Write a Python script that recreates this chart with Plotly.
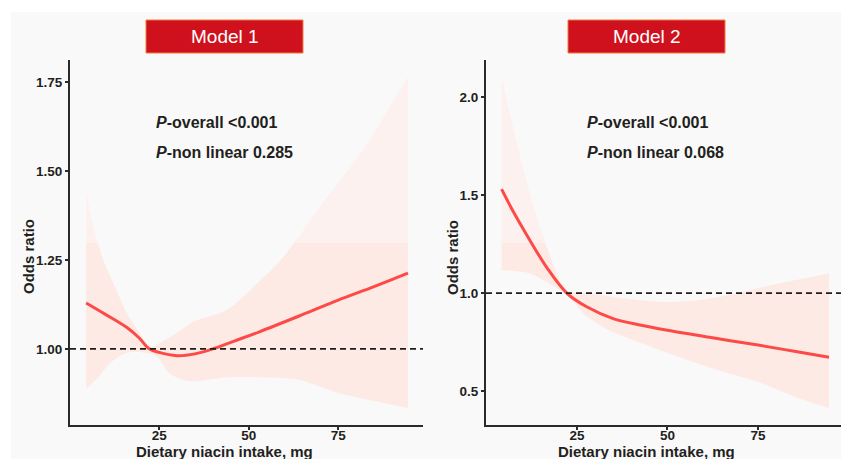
import plotly.graph_objects as go

W, H = 841, 459

# ---------------- data ----------------
# Model 1
m1_x = [4.6, 10, 16, 19.5, 22, 25, 30, 35, 40, 46, 53, 65, 75, 85, 94.5]
m1_or = [1.129, 1.097, 1.060, 1.030, 1.002, 0.990, 0.981, 0.986, 1.0, 1.022, 1.048, 1.096, 1.137, 1.175, 1.213]
m1_up_x = [4.6, 6.6, 9.4, 12.7, 16, 19, 22.5, 25.3, 30, 34.5, 44, 53, 59, 65, 73, 82, 94.5]
m1_up = [1.44, 1.343, 1.25, 1.174, 1.10, 1.053, 1.005, 1.017, 1.045, 1.076, 1.11, 1.19, 1.25, 1.33, 1.44, 1.56, 1.764]
m1_lo_x = [4.6, 8, 11.3, 16, 20.5, 24.4, 28, 32.8, 38, 44, 53, 64, 75, 94.5]
m1_lo = [0.888, 0.92, 0.96, 0.989, 0.99, 0.978, 0.93, 0.91, 0.912, 0.92, 0.92, 0.913, 0.876, 0.834]

# Model 2
m2_x = [4.2, 7.3, 12, 16.7, 22.2, 27.7, 35, 42.4, 50, 62, 75, 85, 94.6]
m2_or = [1.53, 1.42, 1.27, 1.13, 1.0, 0.93, 0.87, 0.837, 0.81, 0.773, 0.735, 0.703, 0.673]
m2_up_x = [4.2, 7.3, 12, 16.7, 22.2, 27.7, 35, 42, 50, 59, 67, 75, 85, 94.6]
m2_up = [2.10, 1.85, 1.51, 1.235, 1.01, 1.0, 0.98, 0.965, 0.955, 0.965, 0.99, 1.025, 1.065, 1.10]
m2_lo_x = [4.2, 12, 16.7, 22.2, 27.7, 35, 42, 50, 62, 75, 85, 94.6]
m2_lo = [1.117, 1.10, 1.056, 0.99, 0.88, 0.80, 0.75, 0.694, 0.618, 0.546, 0.473, 0.413]

x_ticks = [25, 50, 75]
m1_yticks = [1.00, 1.25, 1.50, 1.75]
m2_yticks = [0.5, 1.0, 1.5, 2.0]
ref_or = 1.0

titles = ["Model 1", "Model 2"]
p_overall = ["&lt;0.001", "&lt;0.001"]
p_nonlin = ["0.285", "0.068"]
x_title = "Dietary niacin intake, mg"
y_title = "Odds ratio"

# ---------------- styling ----------------
FONT = "Liberation Sans, Arial, sans-serif"
TXT = "#231f20"
AX = "#2a2a2a"
CURVE = "#fd4a46"
BAND_DARK = "rgb(253,234,229)"
BAND_LIGHT = "rgb(252,241,239)"
BG = "#f9f9f9"


def px(v):
    return v / W


def py(v):
    return 1 - v / H


fig = go.Figure()


def add_panel(xs_lo, lo, xs_up, up, xs, ors, xa, ya, cut, y0, y1):
    f = (cut - y0) / (y1 - y0)
    fig.add_trace(go.Scatter(x=xs_lo, y=lo, mode="lines", line=dict(width=0, shape="spline", smoothing=0.8),
                             xaxis=xa, yaxis=ya, hoverinfo="skip", showlegend=False))
    fig.add_trace(go.Scatter(x=xs_up, y=up, mode="lines", line=dict(width=0, shape="spline", smoothing=0.8),
                             fill="tonexty",
                             fillgradient=dict(type="vertical",
                                               colorscale=[[0, BAND_DARK], [f, BAND_DARK], [f, BAND_LIGHT], [1, BAND_LIGHT]],
                                               start=y0, stop=y1),
                             xaxis=xa, yaxis=ya, hoverinfo="skip", showlegend=False))
    fig.add_trace(go.Scatter(x=xs, y=ors, mode="lines", line=dict(color=CURVE, width=3, shape="spline", smoothing=1.0),
                             xaxis=xa, yaxis=ya, hoverinfo="skip", showlegend=False))


add_panel(m1_lo_x, m1_lo, m1_up_x, m1_up, m1_x, m1_or, "x", "y", 1.298, 0.7, 1.9)
add_panel(m2_lo_x, m2_lo, m2_up_x, m2_up, m2_x, m2_or, "x2", "y2", 1.255, 0.3, 2.2)

ydom = [py(425), py(60)]
common_ax = dict(showline=True, linewidth=2, linecolor=AX, showgrid=False, zeroline=False,
                 ticks="outside", ticklen=3, tickwidth=1.5, tickcolor=AX,
                 tickfont=dict(family=FONT, size=13.5, color=TXT, weight="bold"))

fig.update_layout(
    width=W, height=H, autosize=False,
    margin=dict(l=0, r=0, t=0, b=0),
    paper_bgcolor="white", plot_bgcolor="rgba(0,0,0,0)",
    showlegend=False,
    xaxis=dict(domain=[px(70), px(423)], range=[0.1, 98.7], tickvals=x_ticks, anchor="y",
               ticklabelstandoff=-6, **common_ax),
    yaxis=dict(domain=ydom, range=[0.786, 1.812], tickvals=m1_yticks, tickformat=".2f", anchor="x", **common_ax),
    xaxis2=dict(domain=[px(486), 1.0], range=[-0.1, 97.9], tickvals=x_ticks, anchor="y2",
                ticklabelstandoff=-6, **common_ax),
    yaxis2=dict(domain=ydom, range=[0.327, 2.189], tickvals=m2_yticks, tickformat=".1f", anchor="x2", **common_ax),
)

shapes = [
    dict(type="rect", xref="paper", yref="paper", x0=px(11), x1=1, y0=0, y1=py(12),
         fillcolor=BG, line=dict(width=0), layer="below"),
]
for xd, yr in [("x domain", "y"), ("x2 domain", "y2")]:
    shapes.append(dict(type="line", xref=xd, yref=yr, x0=0, x1=1, y0=ref_or, y1=ref_or,
                       line=dict(color="#1e1e1e", width=1.8, dash="6px,4px"), layer="above"))
box_x = [(146, 303), (568, 725)]
for (a, b) in box_x:
    shapes.append(dict(type="rect", xref="paper", yref="paper", x0=px(a), x1=px(b), y0=py(53), y1=py(20),
                       fillcolor="#cf111e", line=dict(color="#f07a3c", width=1), layer="above"))
fig.update_layout(shapes=shapes)

ann = []
for i, (a, b) in enumerate(box_x):
    ann.append(dict(xref="paper", yref="paper", x=px((a + b) / 2), y=py(36.5), text=titles[i],
                    showarrow=False, xanchor="center", yanchor="middle",
                    font=dict(family=FONT, size=19, color="white")))
for i, xl in enumerate([154, 585]):
    ann.append(dict(xref="paper", yref="paper", x=px(xl), y=py(123), xanchor="left", yanchor="middle",
                    text="<i>P</i>-overall " + p_overall[i], showarrow=False,
                    font=dict(family=FONT, size=16, color=TXT, weight="bold")))
    ann.append(dict(xref="paper", yref="paper", x=px(xl), y=py(152), xanchor="left", yanchor="middle",
                    text="<i>P</i>-non linear " + p_nonlin[i], showarrow=False,
                    font=dict(family=FONT, size=16, color=TXT, weight="bold")))
for xc in [224, 646]:
    ann.append(dict(xref="paper", yref="paper", x=px(xc), y=py(451), xanchor="center", yanchor="middle",
                    text=x_title, showarrow=False,
                    font=dict(family=FONT, size=15, color=TXT, weight="bold")))
for xc in [28, 452]:
    ann.append(dict(xref="paper", yref="paper", x=px(xc), y=py(257), xanchor="center", yanchor="middle",
                    text=y_title, textangle=-90, showarrow=False,
                    font=dict(family=FONT, size=15, color=TXT, weight="bold")))
fig.update_layout(annotations=ann)

fig.write_html("out.html", config={"displayModeBar": False},
               post_script="document.body.style.margin='0px';document.body.style.overflow='hidden';")
